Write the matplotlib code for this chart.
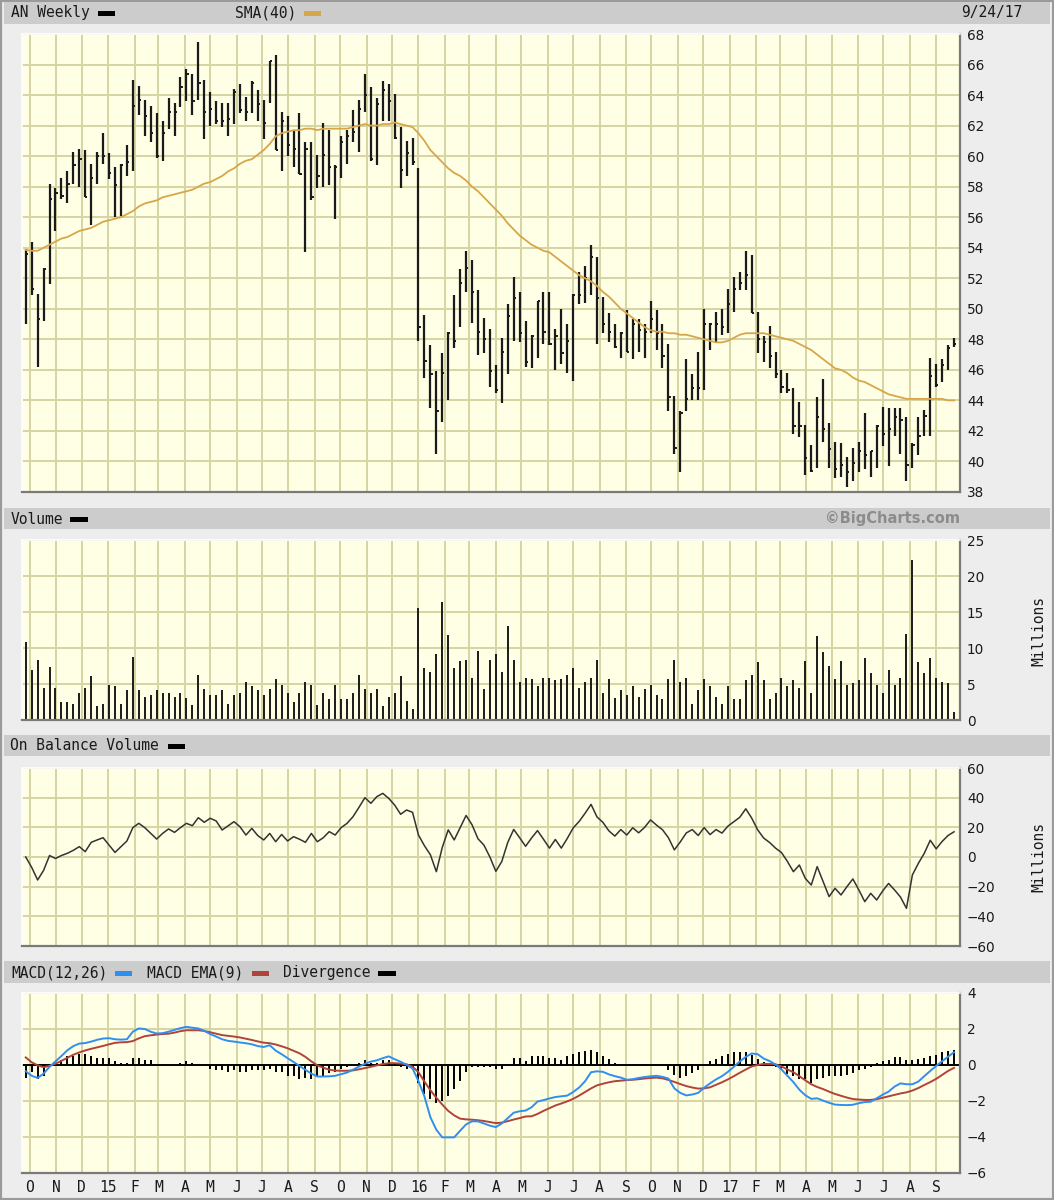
import pandas as pd
import matplotlib
matplotlib.use("Agg")
import matplotlib.pyplot as plt
import matplotlib.dates as mdates
from matplotlib.patches import Rectangle

# weekly bars, week ending Friday
weeks = pd.date_range("2014-09-26", "2017-09-22", freq="7D")

high = [53.9, 54.4, 51.0, 52.7, 58.2, 57.9, 58.6, 59.0, 60.3, 60.5,
        60.4, 59.5, 60.3, 61.5, 60.2, 59.3, 59.5, 60.7, 65.0, 64.6,
        63.7, 63.3, 62.8, 62.3, 63.8, 63.5, 65.2, 65.7, 65.4, 67.5,
        65.0, 64.2, 63.6, 63.5, 63.5, 64.4, 64.7, 63.9, 64.9, 64.3,
        63.7, 66.2, 66.6, 62.9, 62.6, 61.7, 62.8, 60.9, 60.9, 60.1,
        62.2, 61.7, 59.4, 61.3, 61.7, 63.0, 63.7, 65.4, 64.5, 63.8,
        64.9, 64.7, 64.1, 61.9, 61.0, 61.2, 59.2, 49.6, 47.6, 45.9,
        47.1, 48.5, 50.9, 52.6, 53.8, 53.2, 51.2, 49.4, 48.7, 46.3,
        48.1, 50.3, 52.1, 51.1, 49.2, 48.3, 50.5, 51.1, 51.1, 48.7,
        50.0, 49.0, 51.0, 52.4, 52.8, 54.2, 53.4, 50.8, 49.7, 49.0,
        48.5, 49.9, 49.3, 49.3, 49.0, 50.5, 49.9, 49.0, 47.7, 44.3,
        43.3, 46.7, 45.7, 47.2, 50.0, 49.1, 49.8, 50.0, 51.3, 52.1,
        52.4, 53.8, 53.5, 49.8, 48.2, 48.9, 47.2, 46.0, 45.8, 44.8,
        43.9, 42.4, 41.1, 44.2, 45.4, 42.5, 41.3, 41.2, 40.3, 40.9,
        41.3, 43.2, 40.7, 42.4, 43.6, 43.5, 43.5, 43.5, 42.9, 41.2,
        42.9, 43.4, 46.8, 46.4, 46.7, 47.6, 48.1]

low = [49.0, 50.9, 46.2, 49.2, 51.6, 55.1, 57.2, 56.9, 58.2, 58.0,
       57.3, 55.5, 58.2, 59.5, 58.5, 56.0, 56.1, 58.7, 59.0, 62.7,
       61.3, 60.9, 59.9, 59.7, 61.8, 61.3, 63.2, 63.6, 62.7, 63.7,
       61.1, 62.0, 62.1, 61.9, 61.3, 62.1, 62.8, 62.3, 62.8, 62.3,
       61.1, 63.5, 60.4, 59.0, 60.0, 59.3, 58.8, 53.7, 57.1, 57.9,
       58.0, 58.1, 55.9, 58.6, 59.5, 60.9, 60.3, 62.9, 59.7, 59.4,
       62.3, 62.3, 61.1, 57.9, 58.7, 59.4, 47.9, 45.5, 43.5, 40.5,
       42.6, 44.0, 47.4, 48.8, 51.1, 49.1, 47.0, 47.1, 44.9, 44.5,
       43.8, 45.7, 47.9, 47.8, 46.2, 46.1, 46.8, 47.7, 47.6, 46.0,
       46.4, 45.8, 45.3, 50.3, 50.4, 50.9, 47.7, 48.4, 47.8, 47.4,
       46.8, 47.2, 46.7, 47.2, 46.8, 48.4, 47.3, 46.1, 43.3, 40.5,
       39.3, 43.3, 44.0, 44.0, 44.7, 47.3, 47.8, 48.3, 48.4, 49.8,
       51.2, 51.2, 49.7, 47.1, 46.5, 46.1, 45.5, 44.5, 44.5, 41.8,
       41.6, 39.1, 39.3, 39.6, 41.3, 39.6, 38.9, 39.0, 38.3, 38.7,
       39.3, 39.5, 39.0, 39.6, 41.0, 39.7, 41.7, 40.5, 38.7, 39.6,
       40.4, 41.7, 41.7, 44.9, 45.2, 46.0, 47.5]

close = [53.6, 51.3, 49.3, 52.6, 57.2, 57.6, 57.4, 58.2, 59.4, 59.8,
         57.3, 58.6, 60.0, 60.0, 58.9, 58.1, 59.4, 59.6, 63.3, 63.7,
         62.6, 61.5, 60.0, 61.5, 62.9, 62.9, 64.5, 65.4, 63.6, 64.8,
         62.9, 63.1, 62.3, 62.3, 62.4, 64.2, 63.0, 62.9, 64.8, 63.4,
         62.2, 66.2, 60.4, 62.3, 60.7, 60.5, 58.8, 60.5, 57.3, 58.7,
         60.1, 59.3, 59.3, 60.9, 61.3, 61.6, 63.1, 64.0, 59.8, 63.4,
         64.3, 63.6, 61.2, 59.1, 60.2, 59.6, 48.8, 46.6, 45.7, 43.3,
         45.8, 48.4, 47.9, 51.7, 52.7, 51.1, 48.5, 48.0, 45.9, 44.7,
         47.2, 49.5, 50.7, 48.4, 46.5, 48.2, 50.5, 48.5, 47.7, 48.2,
         47.1, 47.9, 50.9, 50.9, 52.0, 53.4, 50.7, 49.0, 48.5, 47.5,
         48.4, 47.2, 49.0, 48.6, 48.5, 49.3, 48.4, 46.9, 44.2, 40.9,
         43.2, 44.1, 44.8, 44.8, 49.0, 49.0, 49.0, 48.8, 50.3, 51.3,
         51.7, 52.2, 49.7, 48.0, 47.8, 46.9, 45.7, 44.9, 44.7, 42.3,
         42.3, 40.2, 39.4, 42.9, 42.1, 40.8, 39.5, 39.8, 39.3, 39.9,
         40.7, 40.4, 40.7, 42.3, 41.8, 42.1, 42.9, 42.7, 39.8, 41.1,
         41.7, 43.0, 45.6, 45.0, 46.3, 47.4, 47.7]

sma40 = [53.85, 53.8, 53.8, 54.0, 54.2, 54.4, 54.6, 54.7, 54.9, 55.1,
         55.2, 55.3, 55.5, 55.7, 55.8, 55.9, 56.0, 56.2, 56.4, 56.7,
         56.9, 57.0, 57.1, 57.3, 57.4, 57.5, 57.6, 57.7, 57.8, 58.0,
         58.2, 58.3, 58.5, 58.7, 59.0, 59.2, 59.5, 59.7, 59.8, 60.1,
         60.4, 60.8, 61.3, 61.5, 61.6, 61.7, 61.7, 61.8, 61.8, 61.7,
         61.8, 61.8, 61.8, 61.8, 61.8, 61.9, 62.0, 62.1, 62.0, 62.0,
         62.1, 62.1, 62.2, 62.1, 62.0, 61.9, 61.5, 61.0, 60.4, 60.0,
         59.6, 59.2, 58.9, 58.7, 58.4, 58.0, 57.7, 57.3, 56.9, 56.5,
         56.1, 55.6, 55.2, 54.8, 54.5, 54.2, 54.0, 53.8, 53.7, 53.4,
         53.1, 52.8, 52.5, 52.2, 52.0, 51.8, 51.5, 51.1, 50.8, 50.4,
         50.0, 49.7, 49.4, 49.1, 48.8, 48.6, 48.5, 48.5, 48.4, 48.4,
         48.3, 48.3, 48.2, 48.1, 48.0, 47.9, 47.8, 47.8, 47.9, 48.1,
         48.3, 48.4, 48.4, 48.4, 48.4, 48.3, 48.2, 48.1, 48.0, 47.9,
         47.7, 47.5, 47.3, 47.0, 46.7, 46.4, 46.1, 46.0, 45.8, 45.5,
         45.3, 45.2, 45.0, 44.8, 44.6, 44.4, 44.3, 44.2, 44.1, 44.1,
         44.1, 44.1, 44.1, 44.1, 44.1, 44.0, 44.0]

# millions of shares
volume = [10.8, 6.9, 8.3, 4.5, 7.3, 4.5, 2.5, 2.5, 2.2, 3.7,
          4.5, 6.1, 1.9, 2.2, 4.9, 4.7, 2.2, 4.1, 8.7, 4.1,
          3.2, 3.5, 4.1, 3.7, 3.7, 3.2, 3.7, 3.1, 2.1, 6.3,
          4.3, 3.5, 3.5, 4.1, 2.2, 3.5, 3.8, 5.3, 4.7, 4.1,
          3.5, 4.3, 5.7, 4.9, 3.8, 2.5, 3.8, 5.3, 4.9, 2.1,
          3.8, 2.9, 4.9, 2.9, 2.9, 3.8, 6.3, 4.3, 3.8, 4.3,
          1.9, 3.2, 3.8, 6.1, 2.6, 1.5, 15.6, 7.2, 6.7, 9.1,
          16.4, 11.8, 7.2, 8.2, 8.3, 5.9, 9.6, 4.3, 8.3, 9.1,
          6.7, 13.0, 8.3, 5.3, 5.9, 5.7, 4.7, 5.9, 5.9, 5.6,
          5.7, 6.3, 7.2, 4.5, 5.3, 5.9, 8.3, 3.7, 5.7, 3.1,
          4.1, 3.5, 4.7, 3.2, 4.3, 4.9, 3.5, 2.9, 5.7, 8.3,
          5.3, 5.9, 2.2, 4.1, 5.7, 4.7, 3.2, 2.2, 4.7, 2.9,
          2.9, 5.6, 6.3, 8.0, 5.6, 2.9, 3.7, 5.9, 4.7, 5.6,
          4.5, 8.2, 3.8, 11.6, 9.4, 7.5, 5.7, 8.2, 4.9, 5.1,
          5.6, 8.6, 6.5, 4.9, 3.7, 6.9, 4.9, 5.9, 12.0, 22.2,
          8.1, 6.5, 8.6, 5.9, 5.3, 5.1, 1.1]

obv = [0, -7, -15.5, -9, 1, -1, 1, 2.5, 4.5, 7,
       3.6, 9.9, 11.5, 13, 8, 3.1, 7, 10.8, 19.8, 22.7,
       19.8, 16, 12.1, 15.9, 18.9, 16.6, 19.8, 22.7, 21.1, 26.5,
       23.4, 26.1, 24.3, 18.2, 21, 23.8, 20.4, 14.8, 19.3, 14.4,
       11.5, 15.9, 10.3, 15.2, 10.8, 13.7, 12, 9.9, 15.9, 10.3,
       13, 17.1, 14.8, 19.8, 22.7, 27.2, 33.5, 40, 36.2, 40.7,
       42.9, 39.5, 35, 28.8, 31.7, 30.1, 14.8, 7.6, 1.5, -9.9,
       6.5, 18.3, 11.5, 19.8, 28, 21.7, 12.3, 8, 0, -9.7,
       -3, 9.8, 18.6, 13, 7.2, 12.8, 17.8, 12, 6, 11.8,
       6, 12.5, 19.6, 24, 29.5, 35.5, 27, 23.3, 17.6, 14.1,
       18.5, 14.8, 19.7, 16.3, 20, 25, 21.5, 18.4, 13, 4.8,
       10.2, 16.2, 18.5, 14.5, 19.8, 15.1, 18.5, 16.1, 20.8, 23.8,
       26.8, 32.5, 26.2, 18.3, 12.8, 9.8, 6, 3, -3, -9.9,
       -5.4, -14.4, -18.9, -6.5, -16.6, -26.7, -21.1, -25.6, -20, -14.8,
       -22.2, -30.1, -24.5, -29, -22.9, -17.8, -22.2, -27, -34.6, -12.1,
       -4.3, 2.5, 11.3, 5.5, 10.5, 14.5, 17]

macd = [-0.35, -0.6, -0.72, -0.48, -0.1, 0.2, 0.5, 0.82, 1.05, 1.19,
        1.22, 1.3, 1.4, 1.47, 1.49, 1.43, 1.41, 1.43, 1.85, 2.03,
        2.0, 1.85, 1.75, 1.77, 1.85, 1.95, 2.05, 2.12, 2.07, 2.03,
        1.9, 1.72, 1.58, 1.43, 1.34, 1.3, 1.25, 1.21, 1.15, 1.05,
        1.0, 1.1, 0.8, 0.6, 0.38, 0.17, -0.05, -0.27, -0.48, -0.64,
        -0.64, -0.63, -0.6, -0.51, -0.42, -0.26, -0.09, 0.07, 0.19, 0.26,
        0.38, 0.48, 0.32, 0.18, 0.01, -0.19, -0.9, -1.75, -2.9, -3.6,
        -4.02, -4.02, -4.02, -3.65, -3.3, -3.13, -3.13, -3.25, -3.37, -3.45,
        -3.25, -2.95, -2.65, -2.57, -2.53, -2.35, -2.03, -1.95, -1.86, -1.78,
        -1.74, -1.7, -1.5, -1.25, -0.9, -0.4, -0.35, -0.38, -0.52, -0.62,
        -0.7, -0.82, -0.79, -0.72, -0.67, -0.63, -0.6, -0.66, -0.75, -1.3,
        -1.55, -1.69, -1.64, -1.55, -1.26, -1.02, -0.8, -0.62, -0.38, -0.1,
        0.2, 0.45, 0.64, 0.6, 0.36, 0.22, 0.03, -0.25, -0.6, -0.95,
        -1.37, -1.68, -1.88, -1.85, -1.98, -2.1, -2.2, -2.22, -2.23, -2.21,
        -2.12, -2.06, -2.04, -1.85, -1.65, -1.48, -1.2, -1.02, -1.07, -1.07,
        -0.92, -0.62, -0.33, -0.05, 0.21, 0.46, 0.71]

signal = [0.42, 0.15, -0.02, -0.12, -0.05, 0.07, 0.23, 0.4, 0.57, 0.7,
          0.81, 0.9, 0.98, 1.06, 1.15, 1.23, 1.26, 1.27, 1.33, 1.48,
          1.6, 1.65, 1.69, 1.72, 1.74, 1.8, 1.88, 1.93, 1.93, 1.93,
          1.89, 1.82, 1.74, 1.66, 1.62, 1.58, 1.53, 1.46, 1.39, 1.31,
          1.24, 1.21, 1.14, 1.04, 0.93, 0.79, 0.65, 0.45, 0.2, -0.02,
          -0.15, -0.26, -0.31, -0.32, -0.32, -0.3, -0.24, -0.17, -0.1, -0.02,
          0.05, 0.1, 0.1, 0.08, 0.04, -0.1, -0.4, -0.92, -1.4, -1.82,
          -2.2, -2.55, -2.8, -2.98, -3.02, -3.04, -3.07, -3.11, -3.17, -3.23,
          -3.2, -3.12, -3.03, -2.95, -2.86, -2.85, -2.72, -2.55, -2.4, -2.25,
          -2.14, -2.02, -1.88, -1.7, -1.5, -1.3, -1.13, -1.04, -0.96, -0.9,
          -0.87, -0.84, -0.82, -0.79, -0.75, -0.72, -0.7, -0.74, -0.83, -0.94,
          -1.06, -1.17, -1.25, -1.31, -1.3, -1.24, -1.1, -0.96, -0.8, -0.62,
          -0.43, -0.25, -0.08, 0.0, 0.06, 0.06, 0.04, -0.08, -0.25, -0.4,
          -0.62, -0.85, -1.07, -1.22, -1.34, -1.48, -1.61, -1.71, -1.81, -1.89,
          -1.92, -1.94, -1.94, -1.9, -1.82, -1.74, -1.66, -1.58, -1.52, -1.42,
          -1.28, -1.11, -0.95, -0.77, -0.55, -0.33, -0.16]

divergence = [-0.7, -0.4, -0.8, -0.6, 0, 0.1, 0.3, 0.5, 0.5, 0.6,
              0.6, 0.5, 0.4, 0.4, 0.4, 0.2, 0.1, 0.1, 0.4, 0.4,
              0.3, 0.3, 0, 0, 0, 0, 0.1, 0.2, 0.1, 0,
              0, -0.2, -0.3, -0.3, -0.4, -0.3, -0.4, -0.4, -0.3, -0.3,
              -0.3, -0.2, -0.4, -0.4, -0.6, -0.6, -0.75, -0.7, -0.8, -0.6,
              -0.6, -0.45, -0.4, -0.2, -0.1, 0, 0.1, 0.3, 0.1, 0.1,
              0.3, 0.3, 0.1, -0.1, -0.2, -0.1, -1.0, -1.6, -1.9, -2.1,
              -2.0, -1.7, -1.35, -0.9, -0.4, -0.1, -0.1, -0.1, -0.1, -0.2,
              -0.2, 0, 0.4, 0.4, 0.25, 0.5, 0.5, 0.5, 0.4, 0.4,
              0.3, 0.5, 0.6, 0.7, 0.8, 0.85, 0.7, 0.5, 0.35, 0.1,
              0, 0, 0, 0, 0, 0, 0, 0, -0.25, -0.55,
              -0.7, -0.6, -0.45, -0.3, 0, 0.2, 0.35, 0.5, 0.6, 0.7,
              0.75, 0.7, 0.55, 0.35, 0.15, 0, -0.1, -0.2, -0.5, -0.6,
              -0.75, -0.8, -1.0, -0.75, -0.7, -0.6, -0.6, -0.6, -0.55, -0.45,
              -0.3, -0.2, -0.1, 0.1, 0.2, 0.3, 0.45, 0.45, 0.3, 0.3,
              0.35, 0.4, 0.5, 0.55, 0.7, 0.8, 0.85]

months = pd.date_range("2014-10-01", "2017-09-01", freq="MS")
month_labels = ["O", "N", "D", "15", "F", "M", "A", "M", "J", "J", "A", "S",
                "O", "N", "D", "16", "F", "M", "A", "M", "J", "J", "A", "S",
                "O", "N", "D", "17", "F", "M", "A", "M", "J", "J", "A", "S"]

W, H = 1054, 1200
BG = "#EDEDED"
STRIP = "#CCCCCC"
PLOT_BG = "#FFFFE6"
GRID = "#D6D4A2"
SMA_COL = "#D8A64A"
BLUE = "#2F8FF0"
RED = "#B0433A"
MONO = "DejaVu Sans Mono"

fig = plt.figure(figsize=(W / 100, H / 100), dpi=100, facecolor=BG)


def box(x0, y0, x1, y1):
    return [x0 / W, 1 - y1 / H, (x1 - x0) / W, (y1 - y0) / H]


def strip(y0, y1):
    fig.add_artist(Rectangle((4 / W, 1 - y1 / H), 1046 / W, (y1 - y0) / H,
                             transform=fig.transFigure, facecolor=STRIP, edgecolor="none"))


def swatch(x0, x1, y, color):
    fig.add_artist(Rectangle((x0 / W, 1 - (y + 2.5) / H), (x1 - x0) / W, 5 / H,
                             transform=fig.transFigure, facecolor=color, edgecolor="none"))


def label(x, y, s, **kw):
    kw.setdefault("family", MONO)
    kw.setdefault("fontsize", 10.5)
    kw.setdefault("color", "#1a1a1a")
    fig.text(x / W, 1 - y / H, s, va="center", **kw)


# outer frame and header strips
fig.add_artist(Rectangle((0, 0), 1, 1, transform=fig.transFigure, fill=False,
                         edgecolor="#9a9a9a", lw=3))
for y0, y1 in [(2, 24), (508, 529), (735, 756), (961, 983)]:
    strip(y0, y1)

xd = mdates.date2num(weeks)
xlim = (xd[0] - 4.4, xd[-1] + 7.0)
mx = mdates.date2num(months)

ax_p = fig.add_axes(box(22, 34, 960, 492))
ax_v = fig.add_axes(box(22, 540, 960, 720))
ax_o = fig.add_axes(box(22, 768, 960, 946))
ax_m = fig.add_axes(box(22, 993, 960, 1173))


def style(ax, ylim, yticks):
    ax.set_facecolor(PLOT_BG)
    ax.set_xlim(xlim)
    ax.set_ylim(ylim)
    ax.set_yticks(yticks)
    ax.set_xticks(mx)
    ax.grid(True, color=GRID, lw=1.4)
    ax.set_axisbelow(True)
    ax.yaxis.tick_right()
    ax.tick_params(axis="y", length=0, pad=5, labelsize=9.8, labelcolor="#1a1a1a")
    ax.tick_params(axis="x", length=0, labelbottom=False)
    for side in ["top", "left"]:
        ax.spines[side].set_color("white")
        ax.spines[side].set_linewidth(1.2)
    for side in ["bottom", "right"]:
        ax.spines[side].set_color("#7a7a7a")
        ax.spines[side].set_linewidth(1.6)


# price panel: high-low bars with close tick, plus 40-week SMA
style(ax_p, (38, 68), range(38, 69, 2))
ax_p.vlines(xd, low, high, color="#1a1a1a", lw=1.6)
ax_p.hlines(close, xd, xd + 2.6, color="#1a1a1a", lw=1.4)
ax_p.plot(xd, sma40, color=SMA_COL, lw=1.3)

# volume
style(ax_v, (0, 25), range(0, 26, 5))
ax_v.vlines(xd, 0, volume, color="#1a1a1a", lw=1.4)

# on balance volume
style(ax_o, (-60, 60), range(-60, 61, 20))
ax_o.plot(xd, obv, color="#333333", lw=1.1)

# MACD
style(ax_m, (-6, 4), range(-6, 5, 2))
ax_m.axhline(0, color="black", lw=1.4)
ax_m.vlines(xd, 0, divergence, color="black", lw=1.4)
ax_m.plot(xd, signal, color=RED, lw=1.4)
ax_m.plot(xd, macd, color=BLUE, lw=1.4)
ax_m.tick_params(axis="x", labelbottom=True, pad=5)
ax_m.set_xticklabels(month_labels, family=MONO, fontsize=10.5, color="#1a1a1a")

# header texts and legend swatches
label(11, 13, "AN Weekly")
swatch(98, 115, 13, "black")
label(235, 13, "SMA(40)")
swatch(304, 321, 13, SMA_COL)
label(1022, 13, "9/24/17", ha="right")

label(11, 519, "Volume")
swatch(70, 88, 519, "black")
label(960, 518, "\u00a9BigCharts.com", ha="right", family="DejaVu Sans",
      fontweight="bold", fontsize=10.5, color="#8c8c8c")

label(10, 746, "On Balance Volume")
swatch(168, 185, 746, "black")

label(11, 973, "MACD(12,26)")
swatch(115, 132, 973, BLUE)
label(147, 973, "MACD EMA(9)")
swatch(252, 269, 973, RED)
label(283, 973, "Divergence")
swatch(378, 396, 973, "black")

fig.text(1039 / W, 1 - 631 / H, "Millions", rotation=90, ha="center", va="center",
         family=MONO, fontsize=10.5, color="#1a1a1a")
fig.text(1039 / W, 1 - 857 / H, "Millions", rotation=90, ha="center", va="center",
         family=MONO, fontsize=10.5, color="#1a1a1a")

fig.savefig("out.png", dpi=100, facecolor=BG)
